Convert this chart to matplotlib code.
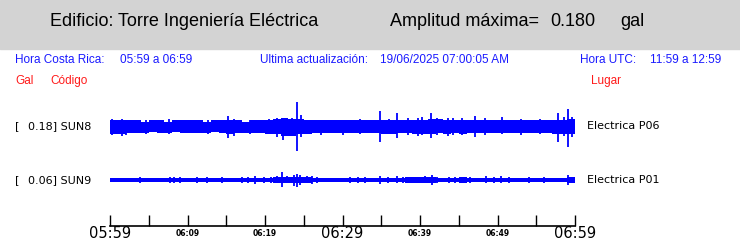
import matplotlib
matplotlib.use("Agg")
import matplotlib.pyplot as plt
from matplotlib.patches import Rectangle

# --- data ----------------------------------------------------------------
stations = ["SUN8", "SUN9"]
places = ["Electrica P06", "Electrica P01"]
peak_gal = [0.18, 0.06]

# amplitude envelope per minute (units of 0.0075 gal), upper / lower
sun8_up = [7, 7, 6, 6, 5, 6, 6, 5, 6, 6, 6, 6, 5, 6, 6,
           6, 6, 5, 6, 6, 7, 8, 9, 8, 8, 7, 6, 6, 6, 6,
           6, 6, 6, 6, 7, 6, 6, 6, 7, 7, 7, 8, 8, 7, 7,
           6, 6, 6, 6, 6, 6, 6, 7, 6, 6, 6, 6, 6, 7, 8]
sun8_dn = [7, 7, 6, 6, 6, 5, 6, 6, 5, 6, 6, 6, 6, 5, 6,
           7, 6, 6, 6, 6, 7, 8, 10, 9, 8, 7, 6, 6, 6, 6,
           6, 6, 6, 6, 6, 7, 7, 6, 6, 7, 7, 7, 6, 7, 6,
           7, 6, 6, 6, 6, 6, 6, 6, 6, 6, 6, 6, 7, 7, 8]
sun9_env = [2, 2, 2, 2, 2, 2, 2, 2, 2, 2, 2, 2, 2, 2, 2,
            2, 2, 2, 2, 2, 2, 3, 3, 3, 3, 3, 2, 2, 2, 2,
            2, 2, 2, 2, 2, 2, 2, 2, 3, 3, 3, 3, 2, 2, 2,
            3, 2, 2, 2, 2, 2, 2, 2, 2, 2, 2, 2, 2, 2, 3]

# spikes: minute after 05:59, up, down
sun8_spk_t = [0.3, 1.5, 2.1, 4.6, 7.6, 9.9, 12.6, 15.2, 16.0, 18.0, 20.5, 21.6,
              22.3, 23.5, 24.1, 24.6, 27.2, 30.0, 32.3, 34.8, 36.0, 37.0, 38.5,
              39.7, 40.3, 41.4, 42.2, 43.6, 44.3, 45.4, 47.1, 48.4, 50.6, 53.0,
              55.5, 57.8, 58.6, 59.1, 59.6]
sun8_spk_up = [8, 8, 7, 7, 8, 7, 7, 11, 8, 7, 8, 9, 9, 9, 24, 12, 7, 7, 8, 16,
               8, 14, 9, 9, 10, 14, 9, 9, 9, 9, 11, 9, 10, 8, 8, 14, 10, 17, 10]
sun8_spk_dn = [8, 9, 8, 7, 7, 6, 7, 11, 9, 7, 7, 10, 13, 9, 24, 10, 8, 8, 7, 15,
               7, 11, 8, 9, 8, 11, 8, 9, 8, 8, 10, 8, 7, 8, 7, 15, 9, 20, 10]

sun9_spk_t = [3.9, 7.7, 8.3, 9.0, 11.2, 12.5, 14.5, 17.0, 17.8, 18.7, 19.9,
              20.8, 21.6, 22.2, 22.8, 23.7, 24.1, 24.5, 25.4, 26.0, 26.7, 31.0,
              32.0, 32.9, 34.8, 35.9, 37.0, 37.8, 38.5, 39.9, 40.6, 41.5, 42.2,
              43.8, 44.5, 45.3, 46.5, 48.5, 49.5, 50.5, 51.5, 54.0, 56.0, 59.1]
sun9_spk_up = [3, 3, 3, 3, 3, 3, 3, 3, 3, 4, 3, 3, 4, 8, 4, 5, 6, 5, 4, 4, 3, 3,
               3, 3, 4, 3, 4, 3, 3, 3, 4, 5, 3, 3, 3, 3, 3, 4, 3, 4, 3, 3, 3, 5]
sun9_spk_dn = [3, 3, 3, 3, 3, 3, 3, 3, 3, 4, 3, 3, 3, 7, 3, 6, 7, 5, 3, 4, 3, 3,
               3, 3, 4, 3, 3, 3, 3, 3, 3, 5, 3, 3, 3, 3, 3, 3, 3, 3, 3, 3, 3, 5]

tick_min = [0, 10, 20, 30, 40, 50, 60]
tick_lab = ["05:59", "06:09", "06:19", "06:29", "06:39", "06:49", "06:59"]

UNIT = 0.0075  # gal per envelope unit
W, H = 740, 241

fig = plt.figure(figsize=(W / 100, H / 100), dpi=100)

def fx(x):
    return x / W

def fy(y):
    return 1 - y / H

hdr = ['Liberation Sans', 'DejaVu Sans']
fig.patches.append(Rectangle((0, fy(49)), 1, 49 / H, transform=fig.transFigure,
                             color='#d3d3d3', zorder=0))
fig.text(fx(50), fy(22), "Edificio: Torre Ingeniería Eléctrica", family=hdr,
         fontsize=13, va='center')
fig.text(fx(390), fy(22), "Amplitud máxima=", family=hdr, fontsize=13, va='center')
fig.text(fx(550), fy(22), "%.3f" % max(peak_gal), family=hdr, fontsize=13, va='center')
fig.text(fx(620), fy(22), "gal", family=hdr, fontsize=13, va='center')

blue = '#1a1aff'
for x, s in [(15, "Hora Costa Rica:"), (120, "05:59 a 06:59"),
             (260, "Ultima actualización:"), (380, "19/06/2025 07:00:05 AM"),
             (580, "Hora UTC:"), (650, "11:59 a 12:59")]:
    fig.text(fx(x), fy(60), s, family=hdr, fontsize=8.5, color=blue, va='center')
for x, s in [(15, "Gal"), (50, "Código"), (591, "Lugar")]:
    fig.text(fx(x), fy(81), s, family=hdr, fontsize=8.5, color='#ff1a1a', va='center')

ax = fig.add_axes([fx(110), fy(226), fx(575) - fx(110), 128 / H])
ax.set_xlim(0, 60)
ax.set_ylim(0, 128 * UNIT)

centers = [(226 - 126.5) * UNIT, (226 - 180.3) * UNIT]
minutes = list(range(61))

traces = [(sun8_up, sun8_dn, sun8_spk_t, sun8_spk_up, sun8_spk_dn),
          (sun9_env, sun9_env, sun9_spk_t, sun9_spk_up, sun9_spk_dn)]
for c, (up, dn, st, su, sd) in zip(centers, traces):
    top = [c + u * UNIT for u in up] + [c + up[-1] * UNIT]
    bot = [c - d * UNIT for d in dn] + [c - dn[-1] * UNIT]
    ax.fill_between(minutes, bot, top, step='post', color='#0000ff', lw=0)
    ax.vlines(st, [c - d * UNIT for d in sd], [c + u * UNIT for u in su],
              color='#0000ff', lw=1.3)

for sp in ['top', 'left', 'right']:
    ax.spines[sp].set_visible(False)
ax.spines['bottom'].set_linewidth(1.2)
ax.set_yticks([])
ax.set_xticks(range(0, 61, 5))
ax.set_xticklabels([])
ax.tick_params(axis='x', direction='in', length=8, width=1)

for m, s in zip(tick_min, tick_lab):
    big = m in (0, 30, 60)
    fig.text(fx(110 + m * 465 / 60), fy(234), s, ha='center', va='center',
             fontsize=10.5 if big else 5.5, family='DejaVu Sans',
             fontweight='normal' if big else 'bold')

for i in range(2):
    y = 126 if i == 0 else 180
    fig.text(fx(15), fy(y), "[", fontsize=8, va='center')
    fig.text(fx(28), fy(y), "%.2f] %s" % (peak_gal[i], stations[i]), fontsize=8, va='center')
    fig.text(fx(587), fy(y), places[i], fontsize=8, va='center')

fig.savefig("out.png", dpi=100)
